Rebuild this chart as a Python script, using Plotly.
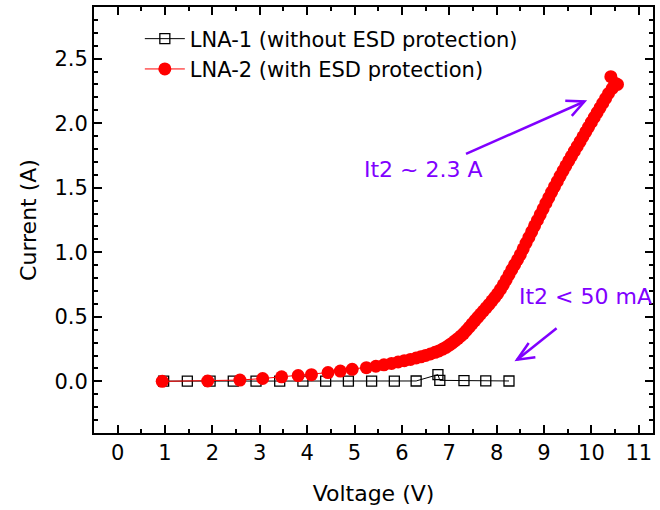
import plotly.graph_objects as go

# LNA-1 (without ESD protection)
lna1_v = [0.97, 1.47, 1.95, 2.44, 2.92, 3.42, 3.91, 4.39, 4.87, 5.36, 5.84, 6.30,
          6.76, 6.80, 7.31, 7.77, 8.26]
lna1_i = [0.002, 0.002, 0.002, 0.002, 0.002, 0.002, 0.002, 0.002, 0.002, 0.002, 0.002, 0.003,
          0.052, 0.008, 0.006, 0.004, 0.003]

# LNA-2 (with ESD protection)
lna2_v = [0.94, 1.90, 2.58, 3.06, 3.46, 3.81, 4.09, 4.44, 4.70, 4.95, 5.25, 5.45, 5.62, 5.78,
          5.92, 6.05, 6.18, 6.30, 6.40, 6.50, 6.60, 6.70, 6.78, 6.86, 6.93, 7.00, 7.06, 7.12,
          7.18, 7.24, 7.30, 7.36, 7.42, 7.48, 7.54, 7.60, 7.66, 7.72, 7.78, 7.84, 7.90, 7.96,
          8.02, 8.08, 8.14, 8.20, 8.26, 8.32, 8.38, 8.44, 8.50, 8.56, 8.62, 8.68, 8.74, 8.80,
          8.86, 8.92, 8.98, 9.04, 9.10, 9.16, 9.22, 9.28, 9.34, 9.40, 9.46, 9.52, 9.58, 9.64,
          9.70, 9.76, 9.82, 9.88, 9.94, 10.00, 10.06, 10.12, 10.18, 10.24, 10.30, 10.36, 10.44,
          10.50, 10.41, 10.55]
lna2_i = [0.000, 0.003, 0.010, 0.022, 0.035, 0.045, 0.052, 0.068, 0.080, 0.093, 0.106, 0.117,
          0.128, 0.139, 0.150, 0.160, 0.170, 0.181, 0.190, 0.201, 0.212, 0.225, 0.236, 0.250,
          0.264, 0.281, 0.296, 0.314, 0.331, 0.350, 0.370, 0.394, 0.419, 0.445, 0.471, 0.496,
          0.521, 0.546, 0.571, 0.596, 0.624, 0.651, 0.679, 0.712, 0.748, 0.786, 0.826, 0.866,
          0.905, 0.942, 0.982, 1.027, 1.072, 1.115, 1.160, 1.205, 1.248, 1.292, 1.336, 1.380,
          1.424, 1.466, 1.508, 1.549, 1.590, 1.630, 1.670, 1.708, 1.745, 1.783, 1.820, 1.857,
          1.895, 1.932, 1.970, 2.008, 2.045, 2.082, 2.118, 2.155, 2.192, 2.230, 2.270, 2.310,
          2.360, 2.300]

x_ticks = list(range(0, 12))
y_ticks = [0.0, 0.5, 1.0, 1.5, 2.0, 2.5]

FONT = "DejaVu Sans"
PURPLE = "#8000FF"

fig = go.Figure()
fig.add_trace(go.Scatter(
    x=lna1_v, y=lna1_i, mode="lines+markers",
    name="LNA-1 (without ESD protection)",
    line=dict(color="black", width=1),
    marker=dict(symbol="square-open", size=10, color="black", line=dict(width=1.3)),
))
fig.add_trace(go.Scatter(
    x=lna2_v, y=lna2_i, mode="lines+markers",
    name="LNA-2 (with ESD protection)",
    line=dict(color="#FF0000", width=1),
    marker=dict(symbol="circle", size=13, color="#FF0000", line=dict(width=0)),
))

axis_common = dict(
    showline=True, linewidth=2, linecolor="black", mirror="ticks",
    ticks="inside", ticklen=8, tickwidth=2, tickcolor="black",
    showgrid=False, zeroline=False,
    tickfont=dict(family=FONT, size=21, color="black"),
)

fig.update_xaxes(
    range=[-0.5, 11.3], tickvals=x_ticks,
    minor=dict(dtick=0.5, tick0=0, ticks="inside", ticklen=4, tickwidth=2, tickcolor="black"),
    title=dict(text="Voltage (V)", font=dict(family=FONT, size=22, color="black"), standoff=21),
    **axis_common,
)
fig.update_yaxes(
    range=[-0.4, 2.9], tickvals=y_ticks, tickformat=".1f",
    minor=dict(dtick=0.1, tick0=0, ticks="inside", ticklen=4, tickwidth=2, tickcolor="black"),
    title=dict(text="Current (A)", font=dict(family=FONT, size=22, color="black"), standoff=12),
    **axis_common,
)

# annotation texts
fig.add_annotation(x=6.46, y=1.64, xref="x", yref="y", text="It2 ~ 2.3 A", showarrow=False,
                   font=dict(family=FONT, size=22, color=PURPLE))
fig.add_annotation(x=9.87, y=0.66, xref="x", yref="y", text="It2 < 50 mA", showarrow=False,
                   font=dict(family=FONT, size=22, color=PURPLE))

# arrows (shaft + open chevron head)
arrow_style = dict(type="path", xref="x", yref="y", line=dict(color=PURPLE, width=2.5))
fig.add_shape(path="M7.353,1.762 L9.853,2.168", **arrow_style)
fig.add_shape(path="M9.448,2.174 L9.853,2.168 L9.586,2.057", **arrow_style)
fig.add_shape(path="M9.265,0.411 L8.431,0.168", **arrow_style)
fig.add_shape(path="M8.676,0.297 L8.431,0.168 L8.817,0.186", **arrow_style)

fig.update_layout(
    width=660, height=510,
    margin=dict(l=94, r=5, t=7, b=77),
    paper_bgcolor="white", plot_bgcolor="white",
    font=dict(family=FONT, color="black"),
    showlegend=True,
    legend=dict(x=0.082, y=0.973, xanchor="left", yanchor="top",
                bgcolor="rgba(0,0,0,0)", itemwidth=40,
                font=dict(family=FONT, size=21, color="black"),
                tracegroupgap=0),
)

fig.write_html("out.html", config={"displayModeBar": False},
               post_script="document.body.style.margin='0';")
